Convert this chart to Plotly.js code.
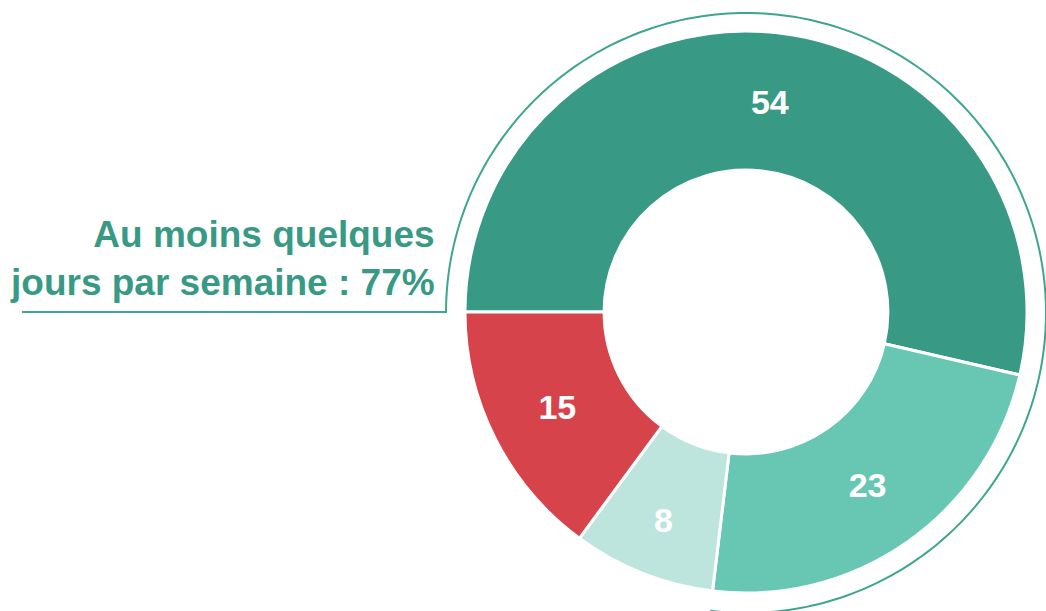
<!DOCTYPE html>
<html>
<head>
<meta charset="utf-8">
<script src="https://cdn.plot.ly/plotly-3.0.1.min.js"></script>
<style>html,body{margin:0;padding:0;background:#fff;}#chart{width:1046px;height:611px;}</style>
</head>
<body>
<div id="chart"></div>
<script>
// Data
const categories = ["Tous les jours", "Quelques jours par semaine", "Moins souvent", "Jamais"];
const values = [53.6, 23.3, 8.2, 14.9];
const colors = ["#389a85", "#67c7b3", "#bde5dd", "#d6434a"];
const highlightCount = 2; // first two slices grouped in the callout
const calloutLabel = "Au moins quelques<br>jours par semaine : ";

const W = 1046, H = 611;
const cx = 746, cy = 312, R = 281, arcR = 300, arcCy = 313;

const total = values.reduce((a, b) => a + b, 0);
const grouped = values.slice(0, highlightCount).reduce((a, b) => a + b, 0);
const frac = grouped / total;

// Arc (paper coordinates) from 9 o'clock clockwise over the grouped share
const px = x => x / W;
const py = y => 1 - y / H;
let path = `M ${px(22)},${py(cy)} L ${px(cx - arcR)},${py(cy)}`;
const N = 240;
for (let i = 1; i <= N; i++) {
  const a = Math.PI + (i / N) * frac * 2 * Math.PI; // clockwise in screen coords
  const x = cx + arcR * Math.cos(a);
  const y = arcCy + arcR * Math.sin(a) - (arcCy - cy) * (1 - i / N) * 0;
  path += ` L ${px(x)},${py(y)}`;
}

const trace = {
  type: "pie",
  labels: categories,
  values: values,
  sort: false,
  direction: "clockwise",
  rotation: 270,
  hole: 0.505,
  marker: { colors: colors, line: { color: "#ffffff", width: 3 } },
  texttemplate: "%{value:.0f}",
  textposition: "inside",
  insidetextorientation: "horizontal",
  insidetextfont: { family: "Liberation Sans, Arial, sans-serif", size: 34, color: "#ffffff", weight: "bold" },
  hoverinfo: "none",
  showlegend: false,
  domain: { x: [px(cx - R), px(cx + R)], y: [py(cy + R), py(cy - R)] }
};

const layout = {
  width: W, height: H,
  margin: { l: 0, r: 0, t: 0, b: 0 },
  paper_bgcolor: "#ffffff",
  showlegend: false,
  shapes: [{
    type: "path", xref: "paper", yref: "paper", path: path,
    line: { color: "#3ea68f", width: 2 }
  }],
  annotations: [{
    xref: "paper", yref: "paper",
    x: px(437), y: py(258), xanchor: "right", yanchor: "middle",
    align: "right", showarrow: false,
    text: calloutLabel + Math.round(frac * 100) + "%",
    font: { family: "Liberation Sans, Arial, sans-serif", size: 37, color: "#389a85", weight: "bold" }
  }]
};

Plotly.newPlot("chart", [trace], layout, { displayModeBar: false, staticPlot: true });
</script>
</body>
</html>
